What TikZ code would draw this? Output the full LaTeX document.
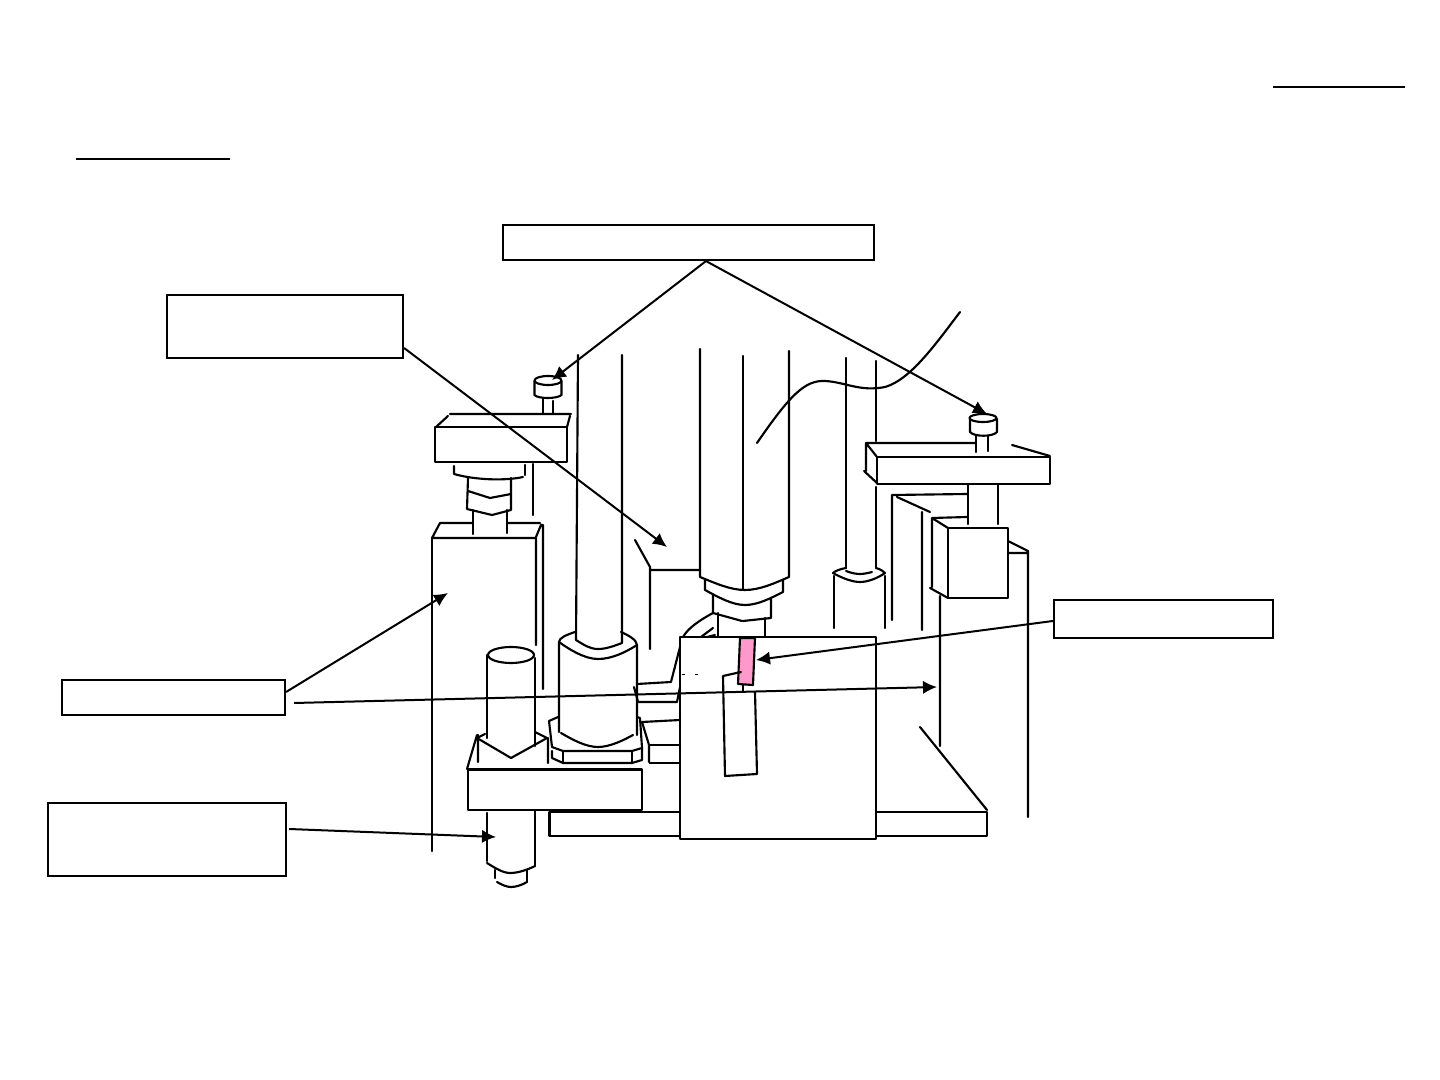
\documentclass[tikz,border=0pt]{standalone}
\usetikzlibrary{arrows.meta,calc}
\tikzset{
 ln/.style={line width=1.6pt,line cap=round,line join=round},
 thin rule/.style={line width=0.8pt},
 labelbox/.style={draw,line width=1.6pt,rectangle,inner sep=0pt,fill=white},
 call/.style={line width=1.5pt,-{Latex[length=10.5pt,width=10pt]}},
}
\newcommand{\lbox}[5]{\node[labelbox,minimum width=#4*0.75pt,minimum height=#5*0.75pt] (#1) at (#2,#3) {};}
\begin{document}
\begin{tikzpicture}[x=0.75pt,y=-0.75pt]
\useasboundingbox (0,0) rectangle (1440,1080);
% base plate and centre block
\draw[ln] (549.5,812) rectangle (987,836);
\draw[ln,fill=white] (680,637) rectangle (876,839);
% header rules
\draw[thin rule] (1273,87) -- (1405,87);
\draw[thin rule] (76,159) -- (230,159);
% left cap and upper plate
\draw[ln] (534.5,381) -- (534.5,395) .. controls (538,399) and (557,399) .. (561.5,395) -- (561.5,381);
\draw[ln] (548,380.5) ellipse [x radius=13.5,y radius=4.5];
\draw[ln] (543,398) -- (543,414) (553,401) -- (553,414);
\draw[ln] (450,414) -- (571,414) (436,427) -- (448,416) (567,427) -- (570,416);
\draw[ln] (435,427) rectangle (567,462);
\draw[ln] (454,466) -- (454,474) .. controls (475,480) and (505,481) .. (523,477);
\draw[ln] (525,465) -- (525,475) (533,464) -- (533,515);
\draw[ln] (468,478) -- (467,509) -- (492,515) -- (511,510) -- (511,478);
\draw[ln] (468,491) -- (490,498) -- (511,494);
\draw[ln] (473,510) -- (473,534) (507,510) -- (507,533);
% left block
\draw[ln] (473,523) -- (440,523) -- (432,538) -- (536,538) -- (536,645);
\draw[ln] (507,523) -- (540,523) (536,537) -- (541,525) -- (543,525) -- (543,689);
\draw[ln] (432,538) -- (432,851);
% long rod and collar
\draw[ln] (578,355) -- (576,640) .. controls (584,645) and (590,649) .. (598,649) .. controls (606,649) and (614,646) .. (622,643) -- (622,355);
\draw[ln] (575,632) .. controls (566,635) and (559,638) .. (559,642) -- (559,732);
\draw[ln] (621,632) .. controls (628,635) and (637,640) .. (637,645) -- (637,735);
\draw[ln] (559,642) .. controls (570,650) and (585,659) .. (598,659) .. controls (612,659) and (626,652) .. (637,645);
\draw[ln] (561,733) .. controls (573,740) and (586,747) .. (598,747) .. controls (610,747) and (624,740) .. (633,735);
\draw[ln] (558,717) -- (549,721) -- (552,747) -- (563,751) -- (632,751) -- (642,748) -- (640,718) -- (637,717);
\draw[ln] (552,751) -- (552,758) -- (563,763) -- (632,763) -- (642,760) -- (642,748);
\draw[ln] (563,751) -- (563,763) (632,751) -- (632,763);
% front left rod
\draw[ln] (487,655) -- (487,738) (535,658) -- (535,746);
\draw[ln] (511,655) ellipse [x radius=23,y radius=8];
\draw[ln] (485,734) -- (477,738) -- (511,758) -- (547,738) -- (535,732);
\draw[ln] (478,735) -- (478,762) (548,738) -- (548,763) (477,735) -- (467,769);
\draw[ln] (468,769.5) rectangle (642,810);
\draw[ln] (487,813) -- (487,861) (535,810) -- (535,866);
\draw[ln] (487,863) .. controls (495,868) and (503,873) .. (510,873) .. controls (518,873) and (527,870) .. (535,866);
\draw[ln] (495,870) -- (495,878) (527,870) -- (527,882);
\draw[ln] (497,882) .. controls (502,885) and (507,887) .. (511,887) .. controls (516,887) and (522,885) .. (527,882);
% central ram
\draw[ln] (700,349) -- (700,577) .. controls (715,583) and (730,590) .. (745,590) .. controls (760,590) and (775,583) .. (789,577) -- (789,351);
\draw[ln] (743,356) -- (743,589);
\draw[ln] (705,580) -- (705,590) .. controls (718,597) and (732,605) .. (745,605) .. controls (758,605) and (771,598) .. (783,592) -- (783,580);
\draw[ln] (713,595) -- (713,613) -- (742,621) (743,621) -- (771,618) -- (771,598);
\draw[ln] (718,613) -- (718,637) (765,618) -- (765,637);
\draw[ln] (713,613) .. controls (700,620) and (688,628) .. (683,637);
\draw[ln] (713,628) -- (701,637) (715,635) -- (707,637);
\draw[ln] (635,540) -- (650,567) -- (650,649) (650,570) -- (699,570);
% connectors at left of block
\draw[ln] (637,684) -- (671,682) -- (680,647);
\draw[ln] (638,702) -- (677,702) -- (680,687) (634,687) -- (638,702);
\draw[ln] (642,722) -- (680,720) (642,722) -- (649,745) -- (649,762);
\draw[ln] (649,745) -- (680,745);
\draw[thin rule] (649,763) -- (680,763);
\draw[line width=0.7pt,dash pattern=on 2pt off 8pt] (682,674) -- (704,674);
% pink piece
\draw[ln,fill={rgb,255:red,255;green,153;blue,204}] (740,638) -- (755,638) -- (753,685) -- (738,684) -- cycle;
\draw[ln] (741,672) -- (723,676) -- (725,776) -- (757,774) -- (755,692);
\draw[ln] (743,685) -- (743,691);
% right column
\draw[ln] (846,358) -- (846,568) (876,361) -- (876,441) (876,487) -- (876,568);
\draw[ln] (846,568) .. controls (840,569) and (835,571) .. (833,573) .. controls (842,578) and (852,582) .. (860,582) .. controls (868,582) and (878,578) .. (885,573) .. controls (883,571) and (880,569) .. (876,568);
\draw[ln] (846,571) .. controls (851,573) and (856,574) .. (860,574) .. controls (864,574) and (868,573) .. (872,572);
\draw[ln] (834,576) -- (834,628) (885,576) -- (885,628);
% right plate and cap
\draw[ln] (976,443) -- (866,443) -- (877,457) (866,443) -- (866,471) (864,471) -- (877,483);
\draw[ln] (877,457) rectangle (1050,484);
\draw[ln] (1012,445) -- (1050,456);
\draw[ln] (970,419) -- (970,432) .. controls (974,437) and (993,437) .. (997,432) -- (997,419);
\draw[ln] (983,418) ellipse [x radius=13.5,y radius=4];
\draw[ln] (976,436) -- (976,452) (988,436) -- (988,451);
% right small block
\draw[ln] (892,620) -- (892,495) -- (967,494) (897,497) -- (930,512) (922,512) -- (922,630);
\draw[ln] (968,484) -- (968,524) (998,484) -- (998,524);
\draw[ln] (967,517) -- (932,518) -- (948,528) (932,518) -- (932,587) (930,588) -- (948,598);
\draw[ln] (948,528) rectangle (1008,598);
\draw[ln] (1008,541) -- (1028,551) -- (1028,817) (1008,553) -- (1028,553);
\draw[ln] (940,596) -- (940,746) (920,727) -- (987,810);
% S curve
\draw[ln] (757,443) .. controls (790,395) and (805,380) .. (825,381) .. controls (845,382) and (860,392) .. (885,387) .. controls (910,380) and (935,345) .. (960,312);
% label boxes
\lbox{topbox}{688.5}{242.5}{371}{35}
\lbox{leftupper}{285}{326.5}{236}{63}
\lbox{leftmid}{173.5}{697.5}{223}{35}
\lbox{leftlow}{167}{839.5}{238}{73}
\lbox{rightbox}{1163.5}{619}{219}{38}
% targets
\coordinate (capL) at (552,380);
\coordinate (capR) at (987,414);
\coordinate (ramT) at (667,547);
\coordinate (blkT) at (448,593);
\coordinate (farT) at (937,687);
\coordinate (rodT) at (496,837);
\coordinate (pinkT) at (756,660);
\coordinate (tA) at ($(topbox.south)+(17.5,0)$);
\draw[call] (tA) -- (capL);
\draw[call] (tA) -- (capR);
\draw[call] ($(leftupper.east)+(0,21.5)$) -- (ramT);
\draw[call] ($(leftmid.east)+(0,-5.5)$) -- (blkT);
\draw[call] ($(leftmid.east)+(8,5.5)$) -- (farT);
\draw[call] ($(leftlow.east)+(2,-10.5)$) -- (rodT);
\draw[call] ($(rightbox.west)+(0,2)$) -- (pinkT);
\end{tikzpicture}
\end{document}
